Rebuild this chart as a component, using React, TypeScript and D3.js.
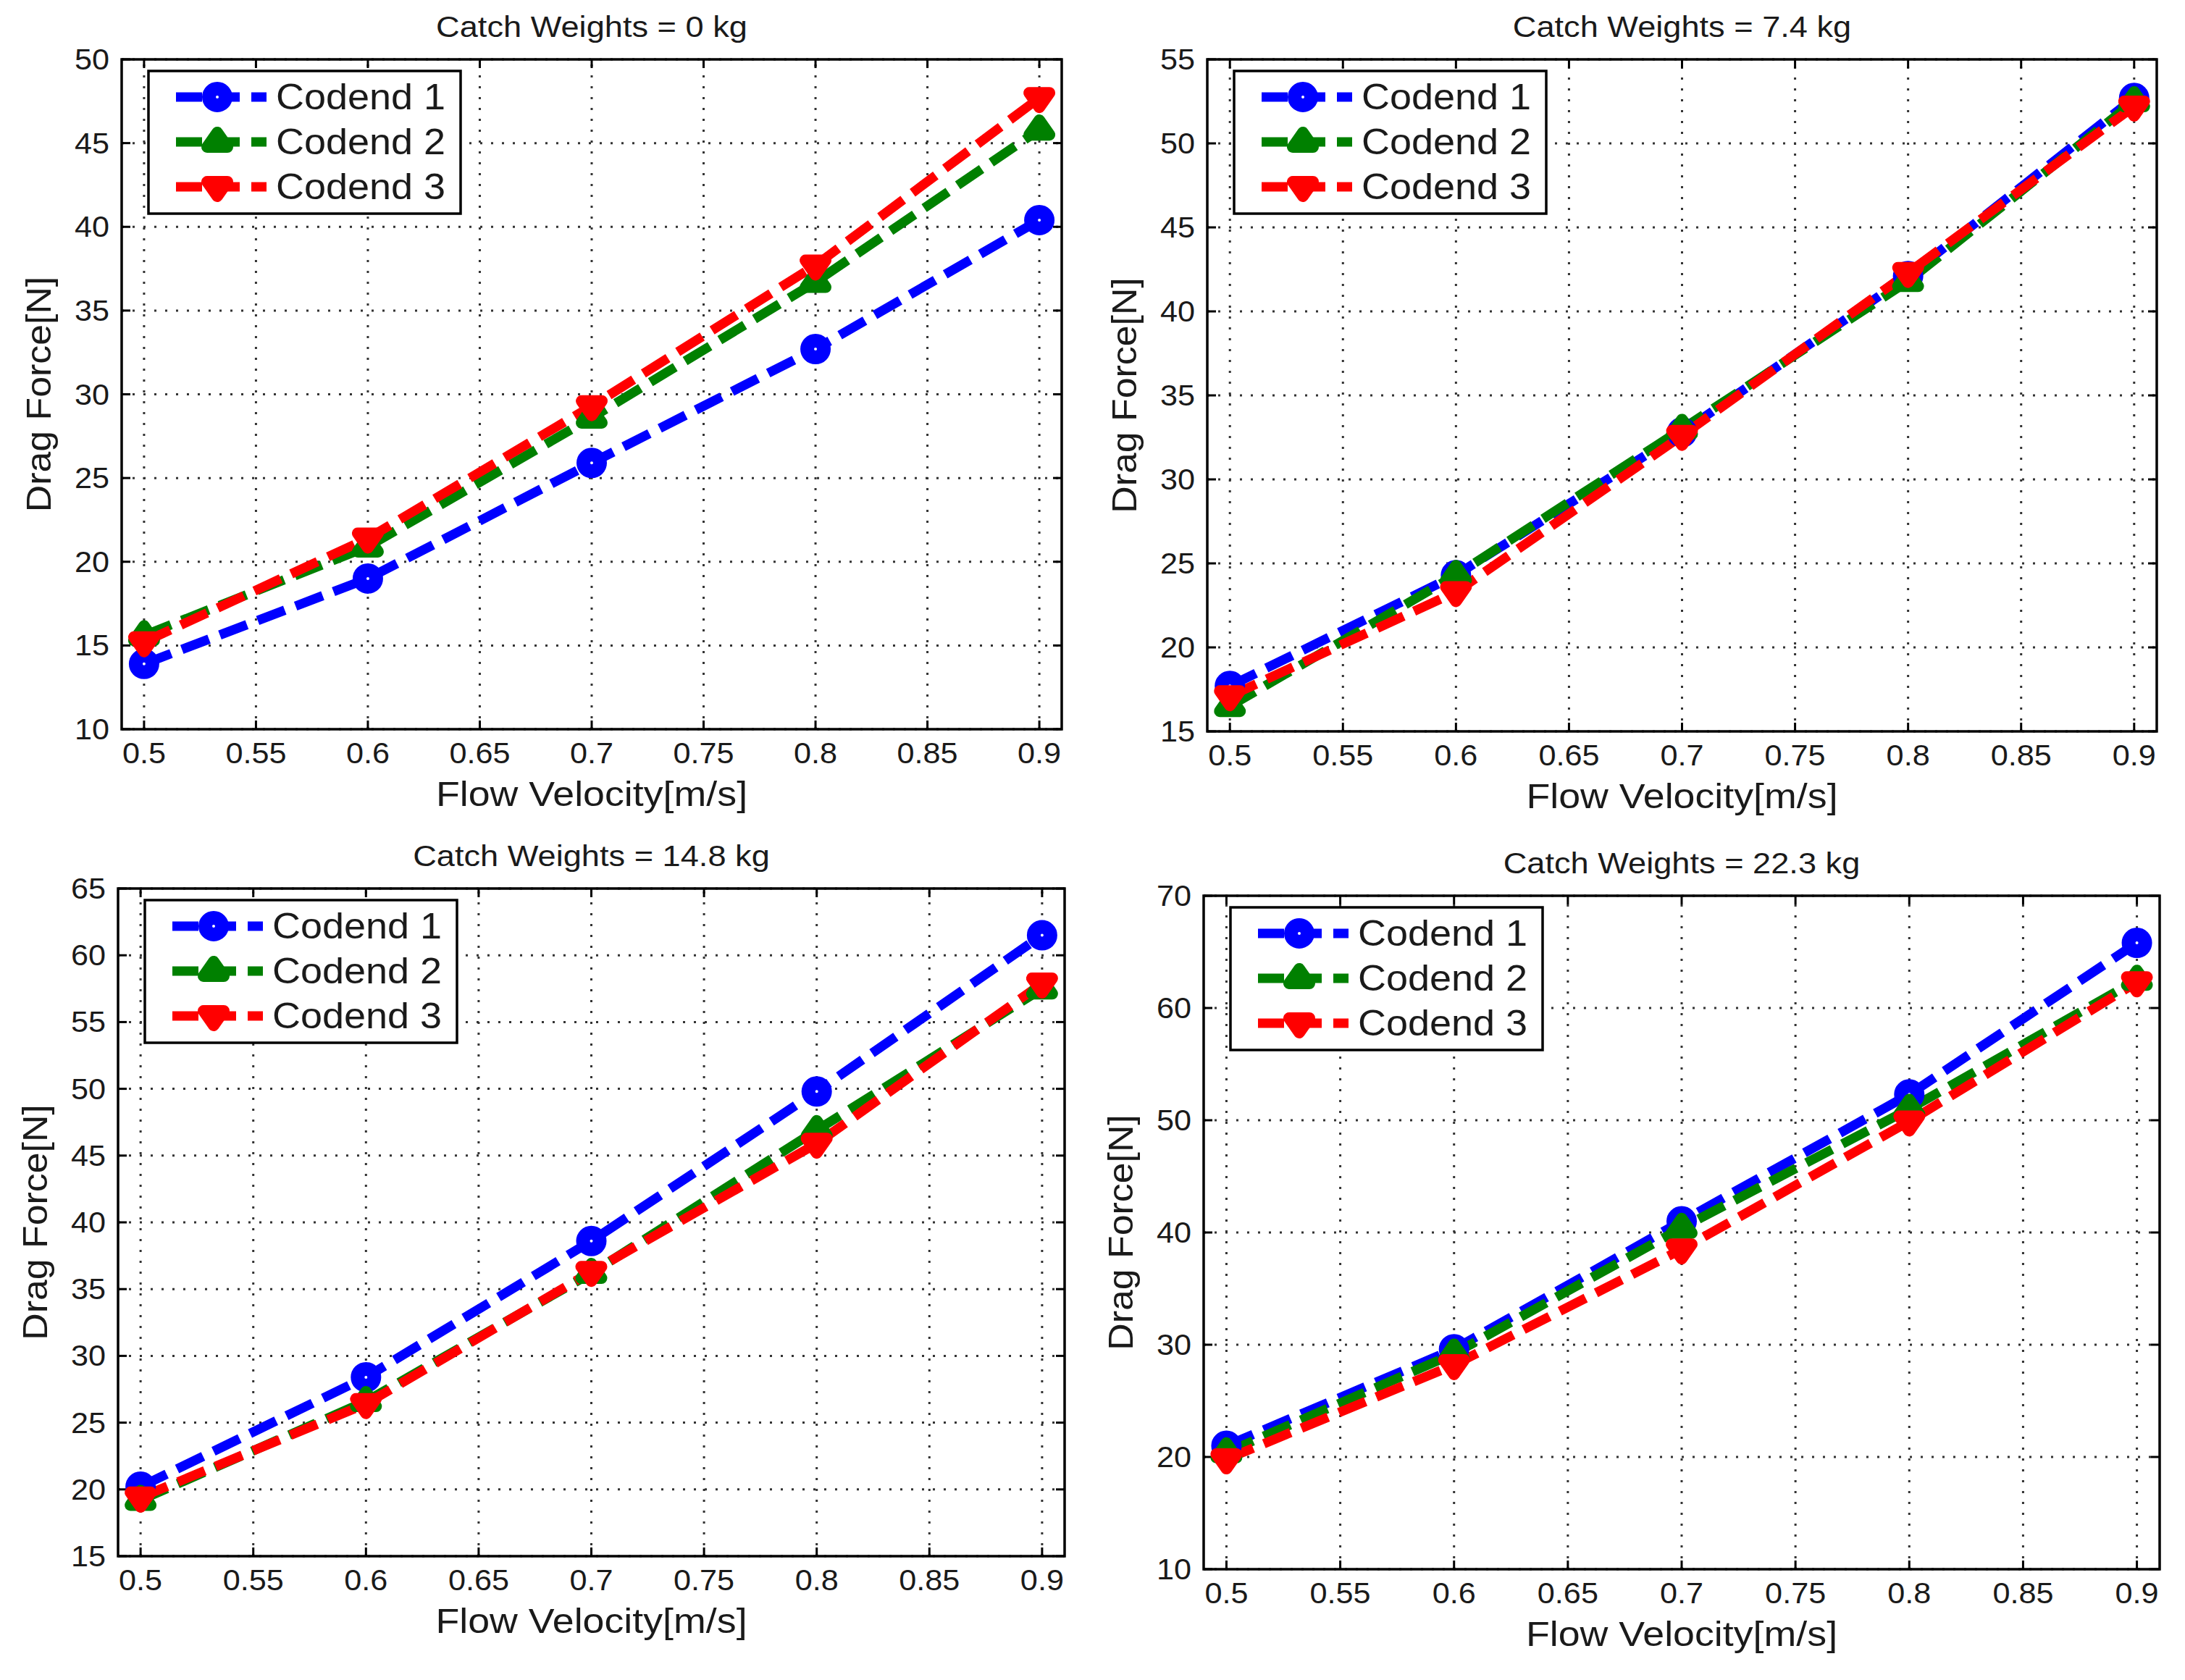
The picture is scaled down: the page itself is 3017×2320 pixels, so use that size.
import { useEffect, useRef } from "react";
import * as d3 from "d3";

// Flow velocity (m/s) sampled for every codend
const velocity = [0.5, 0.6, 0.7, 0.8, 0.9];
const xTicks = [0.5, 0.55, 0.6, 0.65, 0.7, 0.75, 0.8, 0.85, 0.9];
const codendNames = ["Codend 1", "Codend 2", "Codend 3"];

const titles = [
	"Catch Weights = 0 kg",
	"Catch Weights = 7.4 kg",
	"Catch Weights = 14.8 kg",
	"Catch Weights = 22.3 kg",
];

// Drag force [N] per codend, one array per catch weight
const drag0kg = [
	[13.9, 19.0, 25.9, 32.7, 40.4],
	[15.6, 20.9, 28.6, 36.7, 45.8],
	[15.2, 21.4, 29.3, 37.7, 47.7],
];
const drag7kg = [
	[17.7, 24.3, 32.8, 42.1, 52.7],
	[16.5, 24.3, 33.0, 41.8, 52.5],
	[17.1, 23.3, 32.6, 42.3, 52.2],
];
const drag15kg = [
	[20.2, 28.4, 38.6, 49.8, 61.5],
	[19.2, 26.6, 36.2, 46.9, 57.5],
	[19.4, 26.4, 36.3, 45.9, 57.9],
];
const drag22kg = [
	[21.0, 29.6, 41.0, 52.3, 65.8],
	[20.4, 29.2, 40.4, 51.0, 62.5],
	[19.8, 28.2, 38.5, 49.9, 62.3],
];

const yTicks0kg = [10, 15, 20, 25, 30, 35, 40, 45, 50];
const yTicks7kg = [15, 20, 25, 30, 35, 40, 45, 50, 55];
const yTicks15kg = [15, 20, 25, 30, 35, 40, 45, 50, 55, 60, 65];
const yTicks22kg = [10, 20, 30, 40, 50, 60, 70];

const panelData = [drag0kg, drag7kg, drag15kg, drag22kg];
const panelTicks = [yTicks0kg, yTicks7kg, yTicks15kg, yTicks22kg];

// Axes frames (pixels) for the 2x2 grid
const frames = [
	{ left: 168, right: 1466, top: 82, bottom: 1007 },
	{ left: 1667, right: 2978, top: 82, bottom: 1010 },
	{ left: 163, right: 1470, top: 1227, bottom: 2149 },
	{ left: 1662, right: 2982, top: 1237, bottom: 2167 },
];

const colors = ["#0000ff", "#008000", "#ff0000"];
const FONT = "'Liberation Sans', Arial, Helvetica, sans-serif";
const SX = 1.08; // text in the figure is slightly stretched horizontally

function addText(
	g: d3.Selection<SVGGElement, unknown, null, undefined>,
	x: number,
	y: number,
	str: string,
	size: number,
	anchor: string,
	rotate = 0,
	sx = SX
) {
	return g.append("text")
		.attr("transform", `translate(${x},${y}) rotate(${rotate}) scale(${sx},1)`)
		.attr("text-anchor", anchor)
		.attr("font-family", FONT)
		.attr("font-size", size)
		.attr("fill", "#1a1a1a")
		.text(str);
}

function drawMarker(
	g: d3.Selection<SVGGElement, unknown, null, undefined>,
	kind: number,
	cx: number,
	cy: number,
	color: string
) {
	if (kind === 0) {
		g.append("circle")
			.attr("cx", cx)
			.attr("cy", cy)
			.attr("r", 11.5)
			.attr("fill", "#fff")
			.attr("stroke", color)
			.attr("stroke-width", 19);
	} else {
		const dir = kind === 1 ? 1 : -1;
		const pts = [
			[cx, cy - 13 * dir],
			[cx - 14, cy + 7 * dir],
			[cx + 14, cy + 7 * dir],
		];
		g.append("path")
			.attr("d", `M${pts.map(p => p.join(",")).join("L")}Z`)
			.attr("fill", color)
			.attr("stroke", color)
			.attr("stroke-width", 16)
			.attr("stroke-linejoin", "round");
	}
}

export default function App() {
	const ref = useRef<SVGSVGElement>(null);

	useEffect(() => {
		document.body.style.margin = "0";
		const svg = d3.select(ref.current);
		svg.selectAll("*").remove();

		frames.forEach((f, p) => {
			const ticks = panelTicks[p];
			const series = panelData[p];
			const g = svg.append("g");

			const x = d3.scaleLinear().domain([0.49, 0.91]).range([f.left, f.right]);
			const y = d3.scaleLinear()
				.domain([ticks[0], ticks[ticks.length - 1]])
				.range([f.bottom, f.top]);

			// dotted grid
			xTicks.forEach(t => {
				g.append("line")
					.attr("x1", x(t)).attr("x2", x(t))
					.attr("y1", f.bottom).attr("y2", f.top)
					.attr("stroke", "#333")
					.attr("stroke-width", 3)
					.attr("stroke-dasharray", "3 12");
			});
			ticks.forEach(t => {
				g.append("line")
					.attr("x1", f.left).attr("x2", f.right)
					.attr("y1", y(t)).attr("y2", y(t))
					.attr("stroke", "#333")
					.attr("stroke-width", 3)
					.attr("stroke-dasharray", "3 12");
			});

			// ticks on all four sides, pointing inward
			xTicks.forEach(t => {
				g.append("line")
					.attr("x1", x(t)).attr("x2", x(t))
					.attr("y1", f.bottom).attr("y2", f.bottom - 12)
					.attr("stroke", "#000").attr("stroke-width", 3);
				g.append("line")
					.attr("x1", x(t)).attr("x2", x(t))
					.attr("y1", f.top).attr("y2", f.top + 12)
					.attr("stroke", "#000").attr("stroke-width", 3);
				addText(g, x(t), f.bottom + 47, String(t), 40, "middle");
			});
			ticks.forEach(t => {
				g.append("line")
					.attr("x1", f.left).attr("x2", f.left + 12)
					.attr("y1", y(t)).attr("y2", y(t))
					.attr("stroke", "#000").attr("stroke-width", 3);
				g.append("line")
					.attr("x1", f.right).attr("x2", f.right - 12)
					.attr("y1", y(t)).attr("y2", y(t))
					.attr("stroke", "#000").attr("stroke-width", 3);
				addText(g, f.left - 17, y(t) + 14, String(t), 40, "end");
			});

			// data lines
			const line = d3.line<number>()
				.x((_, i) => x(velocity[i]))
				.y(d => y(d));

			series.forEach((vals, s) => {
				g.append("path")
					.attr("d", line(vals))
					.attr("fill", "none")
					.attr("stroke", colors[s])
					.attr("stroke-width", 13)
					.attr("stroke-dasharray", "40 16");
			});
			series.forEach((vals, s) => {
				vals.forEach((v, i) => drawMarker(g, s, x(velocity[i]), y(v), colors[s]));
			});

			// axes box
			g.append("rect")
				.attr("x", f.left).attr("y", f.top)
				.attr("width", f.right - f.left)
				.attr("height", f.bottom - f.top)
				.attr("fill", "none")
				.attr("stroke", "#000")
				.attr("stroke-width", 3.5);

			// labels and title
			const cx = (f.left + f.right) / 2;
			addText(g, cx, f.top - 31, titles[p], 40, "middle", 0, 1.13);
			addText(g, cx, f.bottom + 106, "Flow Velocity[m/s]", 48, "middle", 0, 1.12);
			addText(g, f.left - 98, (f.top + f.bottom) / 2, "Drag Force[N]", 48, "middle", -90);

			// legend
			const lx = f.left + 37;
			const ly = f.top + 16;
			const legend = g.append("g");
			legend.append("rect")
				.attr("x", lx).attr("y", ly)
				.attr("width", 431).attr("height", 197)
				.attr("fill", "#fff")
				.attr("stroke", "#000")
				.attr("stroke-width", 3.5);

			codendNames.forEach((name, s) => {
				const ry = ly + 36 + s * 62;
				legend.append("line")
					.attr("x1", lx + 38).attr("x2", lx + 163)
					.attr("y1", ry).attr("y2", ry)
					.attr("stroke", colors[s])
					.attr("stroke-width", 13)
					.attr("stroke-dasharray", "36 16");
				drawMarker(legend, s, lx + 95, ry, colors[s]);
				addText(legend, lx + 176, ry + 17, name, 50, "start");
			});
		});
	}, []);

	return (
		<svg
			ref={ref}
			width={3017}
			height={2320}
			style={{ display: "block", background: "#fff" }}
		/>
	);
}
